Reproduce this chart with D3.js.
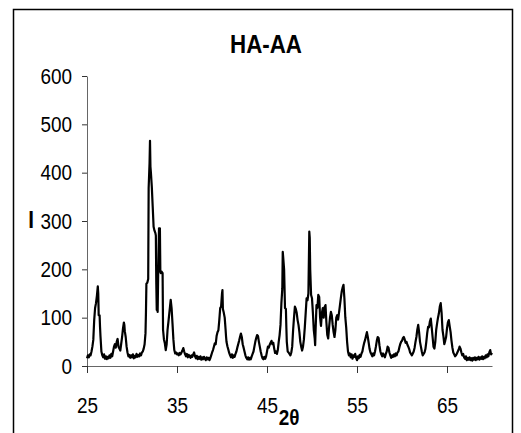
<!DOCTYPE html>
<html>
<head>
<meta charset="utf-8">
<script src="https://cdn.jsdelivr.net/npm/d3@7"></script>
<style>
  body { margin: 0; background: #fff; }
  svg text { font-family: "Liberation Sans", Arial, sans-serif; fill: #000; }
</style>
</head>
<body>
<svg id="chart" width="521" height="433"></svg>
<script>
const title = "HA-AA";
const xTicks = [25, 35, 45, 55, 65];
const yTicks = [0, 100, 200, 300, 400, 500, 600];
const narrow = 0.86; // squeeze Liberation Sans to look like Arial Narrow

// [2θ, I]
const scan = [
  [25.0,16],[25.1,22],[25.2,18],[25.3,24],[25.4,22],[25.5,30],[25.6,40],[25.7,54],[25.8,95],[25.9,120],
  [26.0,130],[26.1,145],[26.2,165],[26.25,150],[26.3,105],[26.4,105],[26.45,80],[26.5,61],[26.6,30],[26.7,22],
  [26.8,18],[26.9,24],[27.0,15],[27.1,20],[27.2,14],[27.3,19],[27.4,16],[27.5,22],[27.6,17],[27.7,25],
  [27.8,20],[27.9,30],[28.0,40],[28.1,45],[28.2,38],[28.3,50],[28.4,56],[28.5,40],[28.6,36],[28.7,32],
  [28.8,46],[28.9,60],[29.0,78],[29.1,90],[29.15,85],[29.2,72],[29.3,60],[29.4,40],[29.5,28],[29.6,20],
  [29.7,23],[29.8,17],[29.9,22],[30.0,18],[30.1,24],[30.2,16],[30.3,21],[30.4,18],[30.5,25],[30.6,19],
  [30.7,23],[30.8,20],[30.9,26],[31.0,22],[31.1,28],[31.2,30],[31.3,36],[31.4,45],[31.5,68],[31.55,110],
  [31.6,170],[31.7,172],[31.8,180],[31.85,368],[31.95,420],[32.0,466],[32.05,412],[32.1,400],[32.2,371],[32.3,330],
  [32.4,288],[32.5,280],[32.6,275],[32.65,270],[32.7,170],[32.75,116],[32.8,124],[32.85,112],[32.9,180],[33.0,285],
  [33.1,285],[33.15,195],[33.2,192],[33.3,195],[33.4,192],[33.45,75],[33.55,55],[33.65,47],[33.75,33],[33.85,45],
  [33.95,75],[34.05,92],[34.15,110],[34.3,137],[34.4,120],[34.5,88],[34.6,55],[34.7,33],[34.8,26],[34.9,28],
  [35.0,24],[35.1,26],[35.2,22],[35.3,27],[35.4,24],[35.5,28],[35.6,32],[35.7,37],[35.8,30],[35.9,24],
  [36.0,20],[36.1,25],[36.2,18],[36.3,23],[36.4,20],[36.5,17],[36.6,22],[36.7,19],[36.8,24],[36.9,28],
  [37.0,20],[37.1,16],[37.2,21],[37.3,14],[37.4,19],[37.5,15],[37.6,20],[37.7,13],[37.8,18],[37.9,14],
  [38.0,19],[38.1,15],[38.2,12],[38.3,18],[38.4,14],[38.5,17],[38.6,12],[38.7,16],[38.8,22],[38.9,28],
  [39.0,33],[39.1,40],[39.2,47],[39.3,45],[39.4,62],[39.5,70],[39.6,74],[39.7,95],[39.8,120],[39.9,123],
  [40.0,150],[40.05,157],[40.1,118],[40.2,110],[40.3,100],[40.4,75],[40.45,61],[40.5,50],[40.6,41],[40.7,34],
  [40.8,27],[40.9,22],[41.0,18],[41.1,24],[41.2,17],[41.3,22],[41.4,19],[41.5,25],[41.6,30],[41.7,38],
  [41.8,45],[41.9,52],[42.0,60],[42.1,67],[42.2,60],[42.3,45],[42.4,38],[42.5,30],[42.6,22],[42.7,17],
  [42.8,14],[42.9,18],[43.0,13],[43.1,17],[43.2,14],[43.3,20],[43.4,25],[43.5,30],[43.6,40],[43.7,50],
  [43.8,58],[43.9,64],[44.0,62],[44.1,50],[44.2,40],[44.3,30],[44.4,22],[44.5,16],[44.6,14],[44.7,19],
  [44.8,15],[44.9,20],[45.0,30],[45.1,40],[45.2,38],[45.3,44],[45.4,48],[45.5,52],[45.6,45],[45.7,48],
  [45.8,36],[45.9,27],[46.0,30],[46.1,25],[46.2,33],[46.3,50],[46.4,64],[46.5,85],[46.6,130],[46.7,160],
  [46.75,236],[46.8,225],[46.9,200],[47.0,120],[47.1,118],[47.15,80],[47.2,50],[47.3,30],[47.4,28],[47.5,25],
  [47.6,22],[47.7,28],[47.8,40],[47.9,74],[48.0,100],[48.1,123],[48.2,118],[48.3,110],[48.4,95],[48.5,85],
  [48.6,70],[48.7,50],[48.8,40],[48.9,32],[49.0,40],[49.1,55],[49.2,80],[49.3,110],[49.4,140],[49.5,136],
  [49.6,150],[49.7,278],[49.75,265],[49.8,200],[49.9,147],[50.0,140],[50.1,110],[50.2,74],[50.3,57],[50.35,43],
  [50.4,75],[50.5,126],[50.6,120],[50.7,147],[50.8,143],[50.9,100],[51.0,83],[51.1,110],[51.2,120],[51.3,100],
  [51.4,122],[51.5,126],[51.6,90],[51.7,64],[51.8,57],[51.9,80],[52.0,100],[52.1,112],[52.2,105],[52.3,85],
  [52.4,70],[52.5,60],[52.6,75],[52.7,100],[52.8,105],[52.9,96],[53.0,110],[53.1,125],[53.2,140],[53.3,154],
  [53.4,162],[53.5,168],[53.6,140],[53.7,101],[53.8,80],[53.9,50],[54.0,30],[54.1,22],[54.2,26],[54.3,18],
  [54.4,24],[54.5,15],[54.6,22],[54.7,19],[54.8,25],[54.9,17],[55.0,12],[55.1,20],[55.2,16],[55.3,23],
  [55.4,19],[55.5,26],[55.6,30],[55.7,40],[55.8,48],[55.9,54],[56.0,62],[56.1,70],[56.2,60],[56.3,48],
  [56.4,35],[56.5,28],[56.6,24],[56.7,20],[56.8,26],[56.9,22],[57.0,30],[57.1,40],[57.2,52],[57.3,60],
  [57.4,58],[57.5,42],[57.6,30],[57.7,24],[57.8,20],[57.9,26],[58.0,22],[58.1,18],[58.2,25],[58.3,30],
  [58.4,40],[58.5,38],[58.6,28],[58.7,22],[58.8,17],[58.9,22],[59.0,19],[59.1,24],[59.2,20],[59.3,26],
  [59.4,22],[59.5,28],[59.6,30],[59.7,38],[59.8,45],[59.9,50],[60.0,52],[60.1,58],[60.2,60],[60.3,55],
  [60.4,48],[60.5,50],[60.6,44],[60.7,40],[60.8,35],[60.9,28],[61.0,25],[61.1,22],[61.2,26],[61.3,30],
  [61.4,38],[61.5,50],[61.6,60],[61.7,75],[61.8,85],[61.9,70],[62.0,50],[62.1,40],[62.2,30],[62.3,22],
  [62.4,25],[62.5,28],[62.6,35],[62.7,50],[62.8,68],[62.9,81],[63.0,80],[63.1,92],[63.2,98],[63.3,80],
  [63.4,60],[63.5,40],[63.6,36],[63.7,50],[63.8,75],[63.9,88],[64.0,100],[64.1,109],[64.2,123],[64.3,130],
  [64.4,110],[64.5,75],[64.6,62],[64.7,45],[64.8,52],[64.9,60],[65.0,78],[65.1,90],[65.2,95],[65.3,82],
  [65.4,70],[65.5,52],[65.6,38],[65.7,28],[65.8,24],[65.9,20],[66.0,22],[66.1,26],[66.2,30],[66.3,34],
  [66.4,40],[66.5,36],[66.6,28],[66.7,22],[66.8,25],[66.9,18],[67.0,15],[67.1,20],[67.2,12],[67.3,17],
  [67.4,13],[67.5,18],[67.6,12],[67.7,16],[67.8,11],[67.9,17],[68.0,13],[68.1,18],[68.2,12],[68.3,17],
  [68.4,14],[68.5,19],[68.6,13],[68.7,18],[68.8,15],[68.9,20],[69.0,14],[69.1,19],[69.2,16],[69.3,22],
  [69.4,18],[69.5,24],[69.6,20],[69.7,28],[69.8,33],[69.9,24],[70.0,27]
];

const svg = d3.select("#chart");

// squeeze a text element horizontally around its own x anchor
function squeeze(sel) {
    sel.each(function () {
        const t = d3.select(this);
        const tx = +t.attr("x") || 0;
        t.attr("transform", `translate(${tx},0) scale(${narrow},1) translate(${-tx},0)`);
    });
}

// outer frame (bottom edge falls off the picture)
svg.append("path")
    .attr("d", "M13.5,440 V9.5 H512.5 V440")
    .attr("fill", "none")
    .attr("stroke", "#000")
    .attr("stroke-width", 1.5);

const x = d3.scaleLinear().domain([25, 70]).range([87, 492]);
const y = d3.scaleLinear().domain([0, 600]).range([366, 76]);

// y axis
const yAxis = svg.append("g")
    .attr("transform", "translate(87,0)")
    .call(d3.axisLeft(y).tickValues(yTicks).tickSize(5).tickPadding(10).tickSizeOuter(0));
yAxis.selectAll("text")
    .style("font-size", "22px")
    .call(squeeze);

// x axis
const xAxis = svg.append("g")
    .attr("transform", "translate(0,366)")
    .call(d3.axisBottom(x).tickValues(xTicks).tickSize(7).tickPadding(24).tickSizeOuter(0));
xAxis.selectAll("text")
    .style("font-size", "22px")
    .call(squeeze);

svg.selectAll(".domain").attr("stroke", "#666");
svg.selectAll(".tick line").attr("stroke", "#333");

// pattern
const line = d3.line()
    .x(d => x(d[0]))
    .y(d => y(d[1]));

svg.append("path")
    .datum(scan)
    .attr("fill", "none")
    .attr("stroke", "#000")
    .attr("stroke-width", 2.2)
    .attr("stroke-linejoin", "round")
    .attr("d", line);

// titles
svg.append("text")
    .attr("x", 266)
    .attr("y", 53)
    .attr("text-anchor", "middle")
    .style("font-size", "26px")
    .style("font-weight", "bold")
    .text(title)
    .call(squeeze);

svg.append("text")
    .attr("x", 289)
    .attr("y", 425)
    .attr("text-anchor", "middle")
    .style("font-size", "22px")
    .style("font-weight", "bold")
    .text("2θ")
    .call(squeeze);

svg.append("text")
    .attr("x", 31)
    .attr("y", 228)
    .attr("text-anchor", "middle")
    .style("font-size", "24px")
    .style("font-weight", "bold")
    .text("I")
    .call(squeeze);
</script>
</body>
</html>
